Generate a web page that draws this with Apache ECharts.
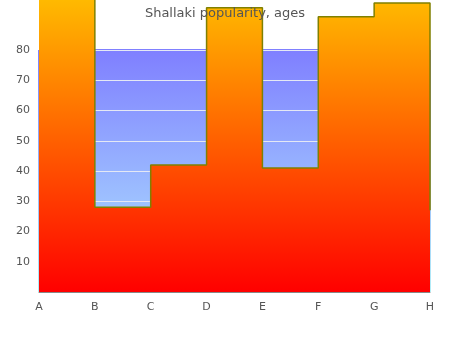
<!DOCTYPE html>
<html>
<head>
<meta charset="utf-8">
<script src="https://cdn.jsdelivr.net/npm/echarts@6/dist/echarts.min.js"></script>
<style>
  html, body { margin: 0; padding: 0; background: #fff; }
  #chart { width: 450px; height: 350px; }
</style>
</head>
<body>
<div id="chart"></div>
<script>
var categories = ['A', 'B', 'C', 'D', 'E', 'F', 'G', 'H'];
var popularity = [100, 28, 42, 94, 41, 91, 95.5, 27];
var yTicks = [0, 80, 10];

var chart = echarts.init(document.getElementById('chart'));

var option = {
    animation: false,
    title: {
        text: 'Shallaki popularity, ages',
        left: 'center',
        top: 2,
        textStyle: { color: '#555', fontSize: 13, fontWeight: 'normal', fontFamily: 'DejaVu Sans' }
    },
    grid: {
        left: 39, right: 20, top: 50, bottom: 58,
        show: true,
        borderWidth: 1,
        borderColor: new echarts.graphic.LinearGradient(0, 0, 0, 1, [
            { offset: 0, color: '#0000ff' },
            { offset: 1, color: '#66ddee' }
        ]),
        backgroundColor: new echarts.graphic.LinearGradient(0, 0, 0, 1, [
            { offset: 0, color: '#7f7fff' },
            { offset: 1, color: '#b0e8ff' }
        ])
    },
    xAxis: {
        type: 'category',
        data: categories,
        boundaryGap: false,
        axisLine: { lineStyle: { color: '#888' } },
        axisTick: { show: false },
        axisLabel: { color: '#555', fontSize: 11, margin: 10, fontFamily: 'DejaVu Sans' }
    },
    yAxis: {
        type: 'value',
        min: yTicks[0],
        max: yTicks[1],
        interval: yTicks[2],
        axisLine: { show: true, lineStyle: { color: '#888' } },
        axisTick: { show: false },
        axisLabel: { color: '#555', fontSize: 11, margin: 9, showMinLabel: false, fontFamily: 'DejaVu Sans' },
        splitLine: { lineStyle: { color: '#e4e8f4' } }
    },
    series: [
        {
            name: 'popularity',
            type: 'line',
            step: 'end',
            data: popularity,
            symbol: 'none',
            clip: false,
            lineStyle: { color: '#808000', width: 1.5 },
            areaStyle: {
                opacity: 1,
                color: new echarts.graphic.LinearGradient(0, 0, 0, 1, [
                    { offset: 0, color: '#ffc000' },
                    { offset: 1, color: '#ff0000' }
                ])
            }
        }
    ]
};
chart.setOption(option);
</script>
</body>
</html>
